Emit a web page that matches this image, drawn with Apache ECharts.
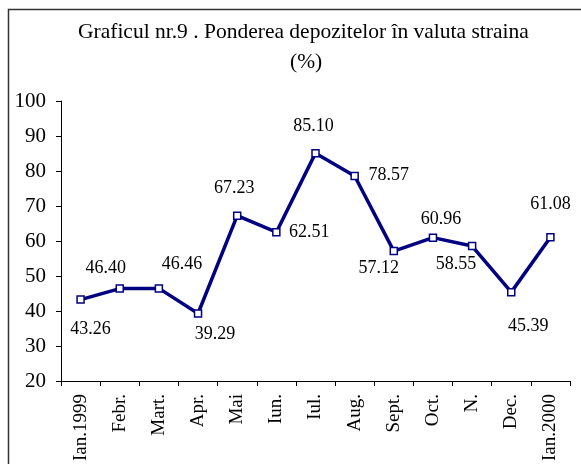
<!DOCTYPE html>
<html>
<head>
<meta charset="utf-8">
<script src="https://cdn.jsdelivr.net/npm/echarts@6/dist/echarts.min.js"></script>
<style>html,body{margin:0;padding:0;background:#fff;}#c{width:581px;height:464px;}</style>
</head>
<body>
<div id="c"></div>
<script>
const categories = ['Ian.1999','Febr.','Mart.','Apr.','Mai','Iun.','Iul.','Aug.','Sept.','Oct.','N.','Dec.','Ian.2000'];
const values = [43.26, 46.40, 46.46, 39.29, 67.23, 62.51, 85.10, 78.57, 57.12, 60.96, 58.55, 45.39, 61.08];
const yTicks = [20, 30, 40, 50, 60, 70, 80, 90, 100];
const labelOffsets = [[10,30],[-14,-20],[23,-24],[17,21],[-3,-27],[33,0],[-2,-27],[34,-1],[-15,17],[8,-18],[-16,18],[17,34],[0,-33]];

const FONT = "'Liberation Serif','Times New Roman',serif";
const chart = echarts.init(document.getElementById('c'), null, {renderer:'canvas'});
chart.setOption({
  animation: false,
  backgroundColor: '#fff',
  graphic: [{
    type: 'rect', silent: true,
    shape: {x: 8.5, y: 9.5, width: 620, height: 520},
    style: {fill: 'none', stroke: '#333', lineWidth: 1.5}
  }],
  title: [
    {text: 'Graficul nr.9 . Ponderea depozitelor în valuta straina', left: 73, top: 16,
     textStyle: {fontFamily: FONT, fontSize: 21.5, fontWeight: 'normal', color: '#000'}},
    {text: '(%)', left: 285, top: 46,
     textStyle: {fontFamily: FONT, fontSize: 21.5, fontWeight: 'normal', color: '#000'}}
  ],
  grid: {left: 61, right: 11, top: 101, bottom: 78, containLabel: false},
  xAxis: {
    type: 'category', data: categories, boundaryGap: true,
    axisLine: {lineStyle: {color: '#000', width: 1}},
    axisTick: {show: true, length: 5, lineStyle: {color: '#000'}},
    axisLabel: {rotate: 90, margin: 13, interval: 0, fontFamily: FONT, fontSize: 19, color: '#000'},
    splitLine: {show: false}
  },
  yAxis: {
    type: 'value', min: yTicks[0], max: yTicks[yTicks.length-1], interval: 10,
    axisLine: {show: true, lineStyle: {color: '#000', width: 1}},
    axisTick: {show: true, length: 5, lineStyle: {color: '#000'}},
    axisLabel: {margin: 15, fontFamily: FONT, fontSize: 21, color: '#000'},
    splitLine: {show: false}
  },
  series: [{
    type: 'line',
    data: values.map((v, i) => ({
      value: v,
      label: {offset: labelOffsets[i]}
    })),
    symbol: 'rect', symbolSize: 7,
    lineStyle: {color: '#000080', width: 3.5},
    itemStyle: {color: '#ffffff', borderColor: '#000080', borderWidth: 1.5},
    label: {
      show: true, position: 'inside', align: 'center', verticalAlign: 'middle',
      formatter: p => p.value.toFixed(2),
      fontFamily: FONT, fontSize: 18, color: '#000'
    },
    emphasis: {disabled: true}
  }]
});
</script>
</body>
</html>
